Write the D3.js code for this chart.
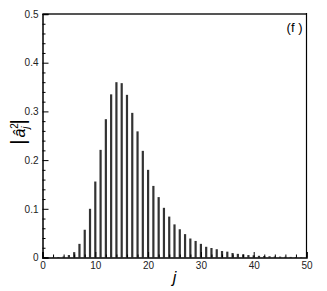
<!DOCTYPE html>
<html>
  <head>
    <meta charset="utf-8">
    <title>|a_j^2| vs j</title>
    <style>
      body { margin: 0; background: #fff; }
      svg { display: block; font-family: "Liberation Sans", Arial, sans-serif; }
    </style>
  </head>
  <body>
    <div id="chart"></div>

    <script src="https://d3js.org/d3.v7.min.js"></script>
    <script>
      // bar values, index j = 1..49
      const jValues = d3.range(1, 50)
      const amp = [
        0.0, 0.0005, 0.001, 0.002, 0.005, 0.011, 0.028, 0.057, 0.1, 0.156,
        0.221, 0.284, 0.335, 0.36, 0.358, 0.334, 0.297, 0.259, 0.219, 0.18,
        0.147, 0.124, 0.102, 0.084, 0.068, 0.058, 0.048, 0.039, 0.034, 0.028,
        0.022, 0.0195, 0.017, 0.0133, 0.012, 0.0092, 0.0075, 0.0065, 0.005, 0.0045,
        0.0035, 0.003, 0.0025, 0.002, 0.0018, 0.0015, 0.0012, 0.001, 0.0008
      ]
      const xTicks = [0, 10, 20, 30, 40, 50]
      const yTicks = [0, 0.1, 0.2, 0.3, 0.4, 0.5]
      const xMinor = d3.range(0, 51, 2)
      const yMinor = d3.range(0, 0.5001, 0.02)

      const W = 327, H = 291
      const margin = { top: 14, right: 20.5, bottom: 33.5, left: 42.5 },
        width = W - margin.left - margin.right,
        height = H - margin.top - margin.bottom

      const svg = d3.select("#chart")
        .append("svg")
        .attr("width", W)
        .attr("height", H)

      const g = svg.append("g")
        .attr("transform", "translate(" + margin.left + "," + margin.top + ")")

      const x = d3.scaleLinear().domain([0, 50]).range([0, width])
      const y = d3.scaleLinear().domain([0, 0.5]).range([height, 0])

      // bars
      const barW = 2.2
      g.selectAll("rect.bar")
        .data(jValues.map((j, i) => [j, amp[i]]))
        .join("rect")
        .attr("class", "bar")
        .attr("x", d => x(d[0]) - barW / 2)
        .attr("y", d => y(d[1]))
        .attr("width", barW)
        .attr("height", d => height - y(d[1]))
        .attr("fill", "#333")

      // frame: top grey, right black
      g.append("line")
        .attr("x1", 0).attr("x2", width)
        .attr("y1", 0).attr("y2", 0)
        .attr("stroke", "#555").attr("stroke-width", 2)
      g.append("line")
        .attr("x1", width).attr("x2", width)
        .attr("y1", -1).attr("y2", height)
        .attr("stroke", "#000").attr("stroke-width", 1.2)

      // axes with inward ticks
      const xAxis = g.append("g")
        .attr("transform", "translate(0," + height + ")")
        .call(d3.axisBottom(x).tickValues(xTicks).tickSize(-5.5).tickPadding(9)
          .tickFormat(d3.format("d")))
      xAxis.selectAll(".tick line").attr("stroke", "#000")
      g.append("g")
        .attr("transform", "translate(0," + height + ")")
        .call(d3.axisBottom(x).tickValues(xMinor.filter(v => v % 10 !== 0))
          .tickSize(-3).tickFormat(""))
        .select(".domain").remove()

      const yAxis = g.append("g")
        .call(d3.axisLeft(y).tickValues(yTicks).tickSize(-6).tickPadding(4)
          .tickFormat(d => d === 0 ? "0" : d3.format(".1f")(d)))
      g.append("g")
        .call(d3.axisLeft(y).tickValues(yMinor.filter((v, i) => i % 5 !== 0))
          .tickSize(-3).tickFormat(""))
        .select(".domain").remove()

      g.selectAll(".domain").attr("stroke", "#000").attr("stroke-width", 1.5)
      g.selectAll(".tick line").attr("stroke-width", 1)
      g.selectAll(".tick text")
        .attr("font-size", 10)
        .attr("font-family", "'Liberation Sans', Arial, sans-serif")
        .attr("fill", "#222")
      xAxis.selectAll(".tick text").attr("dy", "0.2em")

      // panel tag
      svg.append("text")
        .attr("x", margin.left + width - 4)
        .attr("y", margin.top + 18)
        .attr("text-anchor", "end")
        .attr("font-size", 13)
        .text("(f )")

      // x label
      svg.append("text")
        .attr("x", margin.left + x(25))
        .attr("y", 283)
        .attr("text-anchor", "middle")
        .attr("font-size", 16)
        .attr("font-style", "italic")
        .text("j")

      // y label |â_j^2|
      const yl = svg.append("text")
        .attr("transform", "translate(25,132) rotate(-90)")
        .attr("text-anchor", "middle")
        .attr("font-size", 20)
      yl.append("tspan").text("|")
      yl.append("tspan").attr("font-size", 16).attr("font-style", "italic").attr("dx", 2).text("\u00e2")
      yl.append("tspan").attr("font-size", 10).attr("dy", -7).text("2")
      yl.append("tspan").attr("font-size", 10).attr("font-style", "italic")
        .attr("dx", -5.5).attr("dy", 11).text("j")
      yl.append("tspan").attr("dy", -4).attr("dx", 2).text("|")
    </script>
  </body>
</html>
